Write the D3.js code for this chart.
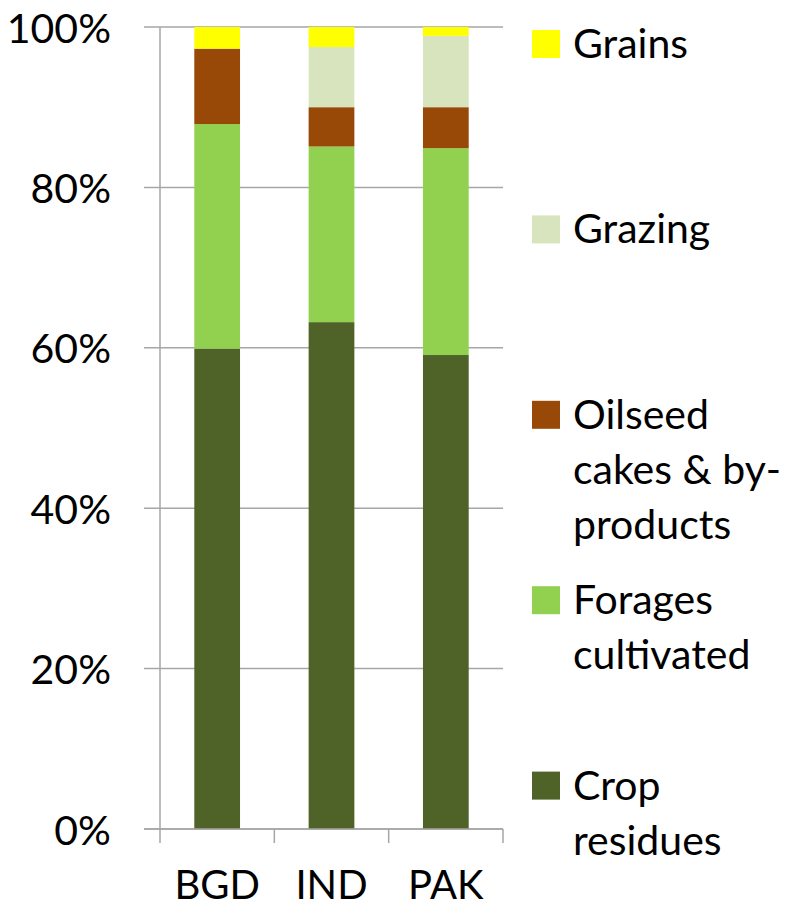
<!DOCTYPE html>
<html>
<head>
<meta charset="utf-8">
<script src="https://cdn.jsdelivr.net/npm/d3@7"></script>
<style>
  html, body { margin: 0; padding: 0; background: #fff; }
  svg { display: block; }
  text { font-family: Lato, "Open Sans", sans-serif; fill: #000; }
</style>
</head>
<body>
<svg id="chart" width="794" height="909"></svg>
<script>
// Countries on the x axis
const countries = ["BGD", "IND", "PAK"];

// Feed source shares (%), stacked bottom to top
const cropResidues      = [59.9, 63.2, 59.1];
const foragesCultivated = [28.0, 21.9, 25.8];
const oilseedCakes      = [9.4, 4.9, 5.1];
const grazing           = [0.0, 7.5, 8.9];
const grains            = [2.7, 2.5, 1.1];

const seriesKeys = ["Crop residues", "Forages cultivated", "Oilseed cakes & by-products", "Grazing", "Grains"];
const seriesColors = ["#4F6228", "#92D050", "#984807", "#D7E4BD", "#FFFF00"];
// Legend labels, wrapped as in the legend box (listed top to bottom)
const legendLines = [
  ["Grains"],
  ["Grazing"],
  ["Oilseed", "cakes & by-", "products"],
  ["Forages", "cultivated"],
  ["Crop", "residues"]
];
const yTicks = [0, 20, 40, 60, 80, 100];

const rows = countries.map((c, i) => ({
  country: c,
  "Crop residues": cropResidues[i],
  "Forages cultivated": foragesCultivated[i],
  "Oilseed cakes & by-products": oilseedCakes[i],
  "Grazing": grazing[i],
  "Grains": grains[i]
}));

const svg = d3.select("#chart");
const plotLeft = 160, plotRight = 503, plotTop = 27, plotBottom = 829;

const x = d3.scaleBand().domain(countries).range([plotLeft, plotRight])
  .paddingInner(0.6).paddingOuter(0.3);
const y = d3.scaleLinear().domain([0, 100]).range([plotBottom, plotTop]);
const color = d3.scaleOrdinal().domain(seriesKeys).range(seriesColors);

const axisColor = "#a6a6a6";

// Horizontal gridlines (also acting as y tick marks)
svg.append("g").selectAll("line").data(yTicks).join("line")
  .attr("x1", plotLeft - 16).attr("x2", plotRight)
  .attr("y1", d => y(d)).attr("y2", d => y(d))
  .attr("stroke", axisColor).attr("stroke-width", 1.5);

// Y tick labels
svg.append("g").selectAll("text").data(yTicks).join("text")
  .attr("x", 111).attr("y", d => y(d))
  .attr("text-anchor", "end").attr("dominant-baseline", "central")
  .attr("font-size", 41)
  .text(d => d + "%");

// Stacked bars
const stacked = d3.stack().keys(seriesKeys)(rows);
svg.append("g").selectAll("g").data(stacked).join("g")
  .attr("fill", d => color(d.key))
  .selectAll("rect").data(d => d).join("rect")
  .attr("x", d => x(d.data.country))
  .attr("width", x.bandwidth())
  .attr("y", d => y(d[1]))
  .attr("height", d => y(d[0]) - y(d[1]));

// Y axis line
svg.append("line")
  .attr("x1", plotLeft).attr("x2", plotLeft).attr("y1", plotTop).attr("y2", plotBottom)
  .attr("stroke", axisColor).attr("stroke-width", 1.5);

// X axis line and category separators
svg.append("line")
  .attr("x1", plotLeft - 16).attr("x2", plotRight).attr("y1", plotBottom).attr("y2", plotBottom)
  .attr("stroke", axisColor).attr("stroke-width", 1.5);
const step = x.step();
const edges = d3.range(countries.length + 1).map(i => plotLeft + i * step);
svg.append("g").selectAll("line").data(edges).join("line")
  .attr("x1", d => d).attr("x2", d => d)
  .attr("y1", plotBottom).attr("y2", plotBottom + 14)
  .attr("stroke", axisColor).attr("stroke-width", 1.5);

// Category labels
svg.append("g").selectAll("text").data(countries).join("text")
  .attr("x", d => x(d) + x.bandwidth() / 2)
  .attr("y", 899)
  .attr("text-anchor", "middle")
  .attr("font-size", 40)
  .text(d => d);

// Legend
const legendKeys = seriesKeys.slice().reverse();
const legend = svg.append("g").selectAll("g").data(legendKeys).join("g")
  .attr("transform", (d, i) => `translate(532, ${44 + i * 185.4})`);
legend.append("rect")
  .attr("x", 0).attr("y", -14).attr("width", 28).attr("height", 28)
  .attr("fill", d => color(d));
legend.append("text")
  .attr("font-size", 41)
  .each(function(d, i) {
    const t = d3.select(this);
    legendLines[i].forEach((line, j) => {
      t.append("tspan").attr("x", 41).attr("y", 14 + j * 55).text(line);
    });
  });
</script>
</body>
</html>
